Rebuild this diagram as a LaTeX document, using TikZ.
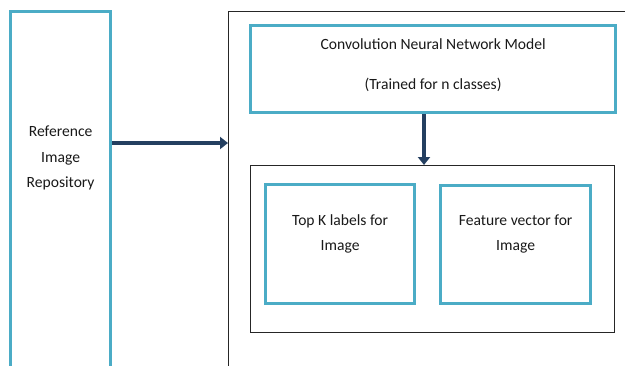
\documentclass[tikz,border=0pt]{standalone}
\usepackage{fontspec}
\setmainfont{Carlito}
\usetikzlibrary{positioning, arrows.meta}

\definecolor{boxcyan}{HTML}{4BACC6}
\definecolor{arrowblue}{HTML}{243F60}

\begin{document}
\begin{tikzpicture}[x=1pt, y=-1pt,
    cyanbox/.style={draw=boxcyan, line width=3.2pt, inner sep=0pt},
    frame/.style={draw=black!85, line width=0.9pt, inner sep=0pt},
    caption/.style={align=center, text=black!90, font=\fontsize{15.6}{25.5}\selectfont},
    fatarrow/.style={draw=arrowblue, line width=4.5pt, -{Triangle[length=8pt,width=12pt]}}
  ]
  \useasboundingbox (0,0) rectangle (625,365);
  \clip (0,0) rectangle (625,365);

  % left column, runs off the bottom edge
  \node (repo) [cyanbox, minimum width=100pt, minimum height=400pt, anchor=north west] at (9,10) {};
  \node (repotext) [caption] at ([yshift=-148pt]repo.north) {Reference\\Image\\Repository};

  % outer frame, also cut off at right and bottom
  \node (outer) [frame, minimum width=420pt, minimum height=400pt, anchor=north west] at (228,11) {};

  \node (cnn) [cyanbox, minimum width=365pt, minimum height=87pt, anchor=north west] at (249,24) {};
  \node (cnntext) [caption] at ([yshift=4pt]cnn.center) {Convolution Neural Network Model\\[15pt](Trained for n classes)};

  \node (inner) [frame, minimum width=364pt, minimum height=167pt, anchor=north west] at (250,165) {};
  \node (topk) [cyanbox, minimum width=149pt, minimum height=119pt, anchor=north west] at (264,183) {};
  \node (feat) [cyanbox, minimum width=150pt, minimum height=118pt, anchor=north west] at (439,184) {};
  \node (topktext) [caption] at ([yshift=-51pt]topk.north) {Top K labels for\\Image};
  \node (feattext) [caption] at ([yshift=-50pt]feat.north) {Feature vector for\\Image};

  % connectors
  \coordinate (arrowy) at (0,143);
  \coordinate (arrowx) at (424,0);
  \draw [fatarrow] (repo.east |- arrowy) -- (outer.west |- arrowy);
  \draw [fatarrow] (cnn.south -| arrowx) -- (inner.north -| arrowx);
\end{tikzpicture}
\end{document}
